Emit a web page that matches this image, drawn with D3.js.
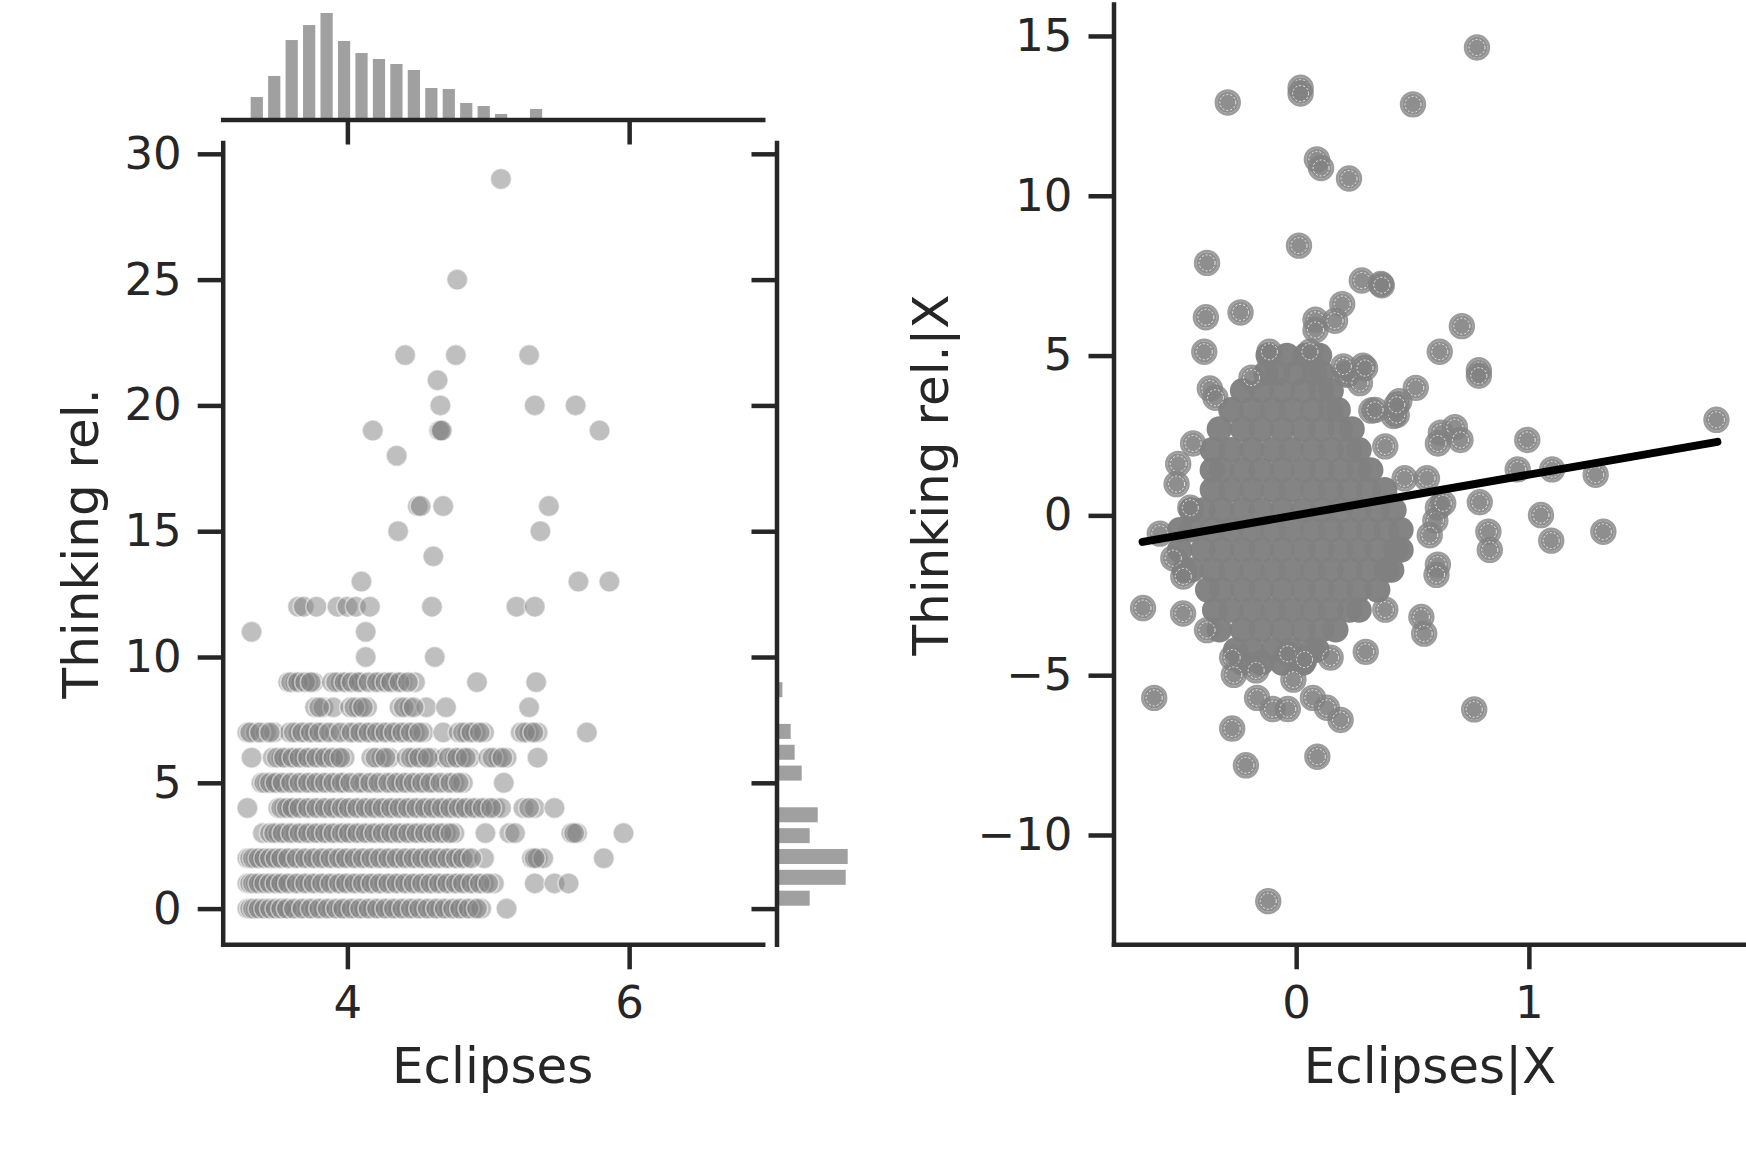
<!DOCTYPE html>
<html>
<head>
<meta charset="utf-8">
<title>Eclipses and Thinking rel.</title>
<script src="https://d3js.org/d3.v7.min.js"></script>
<style>
  body { margin: 0; background: #fff; }
  text { font-family: "DejaVu Sans", sans-serif; fill: #262626; }
</style>
</head>
<body>
<script>
// ---- values ----

// left: joint plot, one row of Eclipses values per Thinking rel. level
var thinkingLevels = [0, 1, 2, 3, 4, 5, 6, 7, 8, 9, 10, 11, 12, 13, 14, 15, 16, 18, 19, 20, 21, 22, 25, 29];
var eclipsesAtLevel = [
  [3.29,3.31,3.35,3.39,3.43,3.47,3.51,3.55,3.59,3.65,3.71,3.77,3.83,3.89,3.95,4.00,4.06,4.12,4.18,4.24,4.30,4.36,4.42,4.48,4.54,4.60,4.66,4.72,4.78,4.83,4.89,4.95,5.13,
   3.33,3.37,3.41,3.45,3.49,3.53,3.57,3.62,3.68,3.74,3.80,3.86,3.92,3.97,4.03,4.09,4.15,4.21,4.27,4.33,4.39,4.45,4.51,4.57,4.63,4.69,4.75,4.80,4.86,4.92],
  [3.29,3.31,3.35,3.39,3.43,3.47,3.51,3.55,3.61,3.67,3.73,3.79,3.85,3.91,3.96,4.02,4.08,4.14,4.20,4.26,4.32,4.38,4.44,4.50,4.56,4.62,4.68,4.74,4.79,4.85,4.91,4.97,5.04,5.33,5.47,5.57,
   3.33,3.37,3.41,3.45,3.49,3.53,3.58,3.64,3.70,3.76,3.82,3.88,3.94,3.99,4.05,4.11,4.17,4.23,4.29,4.35,4.41,4.47,4.53,4.59,4.65,4.71,4.77,4.82,4.88,4.94,5.00],
  [3.29,3.31,3.35,3.39,3.43,3.47,3.51,3.56,3.61,3.67,3.73,3.79,3.85,3.91,3.96,4.02,4.08,4.14,4.20,4.26,4.32,4.38,4.44,4.50,4.56,4.62,4.68,4.74,4.79,4.85,4.97,5.31,5.35,5.39,5.82,
   3.33,3.37,3.41,3.45,3.49,3.53,3.58,3.64,3.70,3.76,3.82,3.88,3.94,3.99,4.05,4.11,4.17,4.23,4.29,4.35,4.41,4.47,4.53,4.59,4.65,4.71,4.77,4.82,4.88,5.33],
  [3.40,3.45,3.51,3.57,3.63,3.69,3.75,3.81,3.87,3.93,3.98,4.04,4.10,4.16,4.22,4.28,4.34,4.40,4.46,4.52,4.58,4.64,4.70,4.76,4.98,5.15,5.19,5.59,5.63,5.96,
   3.48,3.54,3.60,3.66,3.72,3.78,3.84,3.90,3.96,4.01,4.07,4.13,4.19,4.25,4.31,4.37,4.43,4.49,4.55,4.61,4.67,4.73,5.61],
  [3.29,3.51,3.55,3.59,3.63,3.69,3.75,3.81,3.87,3.93,3.98,4.04,4.10,4.16,4.22,4.28,4.34,4.40,4.46,4.52,4.58,4.64,4.70,4.76,4.81,4.87,4.93,4.99,5.05,5.09,5.25,5.33,5.47,
   3.53,3.57,3.61,3.66,3.72,3.78,3.84,3.90,3.96,4.01,4.07,4.13,4.19,4.25,4.31,4.37,4.43,4.49,4.55,4.61,4.67,4.73,4.79,4.84,4.90,4.96,5.02,5.29],
  [3.39,3.43,3.47,3.51,3.57,3.63,3.69,3.75,3.81,3.87,3.93,3.98,4.06,4.12,4.19,4.26,4.32,4.38,4.44,4.50,4.56,4.62,4.70,4.76,4.82,5.11,
   3.41,3.45,3.49,3.54,3.60,3.66,3.72,3.78,3.84,3.90,3.96,4.02,4.09,4.16,4.22,4.29,4.35,4.41,4.47,4.53,4.59,4.66,4.73,4.79],
  [3.32,3.47,3.53,3.58,3.63,3.69,3.75,3.81,3.87,3.93,3.98,4.17,4.24,4.30,4.42,4.48,4.54,4.60,4.69,4.76,4.81,4.87,5.00,5.07,5.13,5.35,
   3.50,3.55,3.61,3.66,3.72,3.78,3.84,3.90,3.95,4.20,4.27,4.45,4.51,4.57,4.72,4.78,4.84,5.03,5.10],
  [3.29,3.35,3.42,3.48,3.59,3.65,3.71,3.77,3.83,3.91,4.00,4.06,4.12,4.18,4.24,4.30,4.36,4.42,4.48,4.54,4.68,4.79,4.85,4.91,4.97,5.23,5.29,5.35,5.70,
   3.31,3.38,3.45,3.62,3.68,3.74,3.80,3.87,3.95,4.03,4.09,4.15,4.21,4.27,4.33,4.39,4.45,4.51,4.82,4.88,4.94,5.26,5.32],
  [3.77,3.83,3.90,4.02,4.08,4.14,4.37,4.44,4.56,4.70,5.29, 3.80,4.05,4.11,4.40,4.47],
  [3.58,3.63,3.67,3.72,3.76,3.89,3.95,4.00,4.06,4.10,4.19,4.24,4.29,4.34,4.39,4.48,4.92,5.34,
   3.60,3.65,3.70,3.74,3.92,3.98,4.03,4.08,4.15,4.21,4.27,4.31,4.37,4.43],
  [4.13,4.62],
  [3.32,4.13],
  [3.65,3.69,3.78,3.93,4.00,4.06,4.16,4.60,5.20,5.33],
  [4.10,5.64,5.86],
  [4.61],
  [4.36,5.37],
  [4.50,4.52,4.68,5.43],
  [4.35],
  [4.18,4.65,4.66,4.67,5.79],
  [4.66,5.33,5.62],
  [4.64],
  [4.41,4.77,5.29],
  [4.78],
  [5.09]
];

// marginal histograms (relative counts per bin)
var eclipsesBinStart = 3.295, eclipsesBinWidth = 0.1239;
var eclipsesCounts = [21.1, 40.9, 74.6, 88.7, 100, 73.7, 62.4, 56.8, 52.1, 46.5, 29.6, 28.6, 15.5, 12.7, 5.2, 1, 9.9, 0, 1, 1, 0, 1];
var thinkingBinStart = 0, thinkingBinWidth = 29 / 35;
var thinkingCounts = [46.6, 97.2, 100, 46.6, 57.9, 0, 35.4, 25.5, 19.9, 3, 8.3, 0, 2, 2, 3.5, 1.5, 1, 0, 2, 1.5, 0, 2.5, 1.5, 1, 0, 0, 2.5, 0, 0, 0, 1, 0, 0, 0, 1];

// right: partial regression plot, dense core read row by row
var coreRowY = [5.0, 4.45, 3.9, 3.3, 2.7, 2.05, 1.42, 0.8, 0.17, -0.45, -1.08, -1.71, -2.33, -2.96, -3.58, -4.21, -4.62];
var coreRowX = [
  [-0.12,-0.04,0.04,0.10],
  [-0.13,-0.08,0.00,0.08,0.11],
  [-0.23,-0.15,-0.06,0.03,0.11,0.15],
  [-0.28,-0.19,-0.10,-0.02,0.07,0.15,0.18],
  [-0.33,-0.23,-0.15,-0.06,0.03,0.11,0.19,0.24],
  [-0.36,-0.28,-0.19,-0.10,-0.02,0.07,0.15,0.23,0.27],
  [-0.36,-0.32,-0.23,-0.15,-0.06,0.03,0.11,0.19,0.27,0.32],
  [-0.36,-0.28,-0.19,-0.10,-0.02,0.07,0.15,0.23,0.31,0.38],
  [-0.45,-0.40,-0.32,-0.23,-0.15,-0.06,0.03,0.11,0.19,0.27,0.35,0.42],
  [-0.50,-0.45,-0.36,-0.28,-0.19,-0.10,-0.02,0.07,0.15,0.23,0.31,0.39,0.45],
  [-0.50,-0.40,-0.32,-0.23,-0.15,-0.06,0.03,0.11,0.19,0.27,0.35,0.43,0.45],
  [-0.48,-0.45,-0.36,-0.28,-0.19,-0.10,-0.02,0.07,0.15,0.23,0.31,0.39,0.41],
  [-0.38,-0.32,-0.23,-0.15,-0.06,0.03,0.11,0.19,0.27,0.35],
  [-0.35,-0.28,-0.19,-0.10,-0.02,0.07,0.15,0.23,0.27],
  [-0.33,-0.23,-0.15,-0.06,0.03,0.11,0.17],
  [-0.26,-0.19,-0.10,-0.02,0.07,0.09],
  [-0.23,-0.15,-0.06,0.03]
];
// scattered points around the core
var residX = [0.777,0.019,0.019,-0.294,0.502,0.089,0.107,0.227,0.012,-0.383,0.282,0.364,0.368,-0.239,-0.388,0.198,0.083,0.167,0.083,0.712,
  -0.395,0.617,0.785,0.785,0.287,0.215,0.22,0.514,-0.371,-0.347,0.443,0.419,0.323,1.806,0.622,0.609,0.682,0.706,0.993,0.383,
  0.952,1.10,1.287,0.466,0.562,0.789,1.052,0.826,0.832,1.096,1.32,-0.443,-0.507,-0.514,-0.586,0.609,0.598,0.574,0.609,-0.455,
  -0.192,-0.115,0.059,-0.658,-0.486,-0.383,-0.610,-0.275,-0.268,-0.172,-0.168,-0.101,-0.036,-0.012,-0.036,0.036,0.072,0.132,0.191,-0.275,
  -0.216,0.091,-0.12,0.765,0.148,0.299,0.383,0.538,0.550,0.603,-0.528,-0.485,0.632,0.432,0.274,0.203,0.339,0.432,0.296];
var residY = [14.64,13.38,13.2,12.92,12.86,11.14,10.87,10.54,8.44,7.90,7.35,7.24,7.20,6.35,6.20,6.61,6.12,6.09,5.80,5.92,
  5.12,5.12,4.54,4.37,4.68,4.43,4.40,3.99,3.97,3.68,3.57,3.11,3.28,2.99,2.59,2.25,2.76,2.36,2.36,2.16,
  1.44,1.44,1.27,1.16,1.16,0.41,0.01,-0.51,-1.08,-0.79,-0.51,2.25,1.61,0.98,-0.57,0.24,-0.16,-0.62,-1.54,0.24,
  4.31,5.12,5.12,-2.90,-3.07,-3.59,-5.71,-4.45,-4.99,-4.85,-5.71,-6.06,-6.06,-5.14,-4.33,-4.51,-5.71,-6.02,-6.40,-6.67,
  -7.82,-7.55,-12.07,-6.07,-4.45,-4.27,-2.95,-3.18,-3.70,-1.86,-1.34,-1.91,0.38,3.14,4.14,4.66,3.30,3.46,4.61];
// fitted line ends
var fitX = [-0.66, 1.81];
var fitY = [-0.83, 2.30];

var leftYTicks = [0, 5, 10, 15, 20, 25, 30];
var leftXTicks = [4, 6];
var rightYTicks = [-10, -5, 0, 5, 10, 15];
var rightXTicks = [0, 1];

// ---- drawing ----
var W = 1746, H = 1151;
var ink = "#262626";
var svg = d3.select("body").append("svg").attr("width", W).attr("height", H);

function styleAxis(g, labels) {
  g.select(".domain").attr("stroke", ink).attr("stroke-width", 4.5).attr("stroke-linecap", "square");
  g.selectAll(".tick line").attr("stroke", ink).attr("stroke-width", 4.5);
  g.selectAll(".tick text").attr("font-size", labels ? 45 : 0).attr("fill", ink)
    .attr("font-family", "DejaVu Sans, sans-serif");
}

// left joint plot
var x = d3.scaleLinear().domain([3.115, 6.948]).range([222.7, 762.7]);
var y = d3.scaleLinear().domain([-1.419, 30.45]).range([944.3, 142.5]);

var jointPts = [];
thinkingLevels.forEach(function(t, i) {
  eclipsesAtLevel[i].forEach(function(e) { jointPts.push({e: e, t: t}); });
});

svg.append("g").selectAll("circle").data(jointPts).enter().append("circle")
  .attr("cx", function(d) { return x(d.e); })
  .attr("cy", function(d) { return y(d.t); })
  .attr("r", 10.5)
  .attr("fill", "#808080").attr("fill-opacity", 0.5)
  .attr("stroke", "#fff").attr("stroke-opacity", 0.5).attr("stroke-width", 1.6);

var gx = svg.append("g").attr("transform", "translate(0,944.3)")
  .call(d3.axisBottom(x).tickValues(leftXTicks).tickSize(25).tickSizeOuter(0).tickPadding(17).tickFormat(d3.format("d")));
styleAxis(gx, true);
var gy = svg.append("g").attr("transform", "translate(222.7,0)")
  .call(d3.axisLeft(y).tickValues(leftYTicks).tickSize(25).tickSizeOuter(0).tickPadding(16).tickFormat(d3.format("d")));
styleAxis(gy, true);

// top marginal histogram
var hTop = d3.scaleLinear().domain([0, 100]).range([119.5, 13]);
svg.append("g").selectAll("rect").data(eclipsesCounts).enter().append("rect")
  .attr("x", function(d, i) { return x(eclipsesBinStart + (i + 0.15) * eclipsesBinWidth); })
  .attr("width", x(eclipsesBinStart + 0.7 * eclipsesBinWidth) - x(eclipsesBinStart))
  .attr("y", function(d) { return hTop(d); })
  .attr("height", function(d) { return hTop(0) - hTop(d); })
  .attr("fill", "#a0a0a0");
var gTop = svg.append("g").attr("transform", "translate(0,119.5)")
  .call(d3.axisBottom(x).tickValues(leftXTicks).tickSize(25).tickSizeOuter(0).tickFormat(""));
styleAxis(gTop, false);

// right marginal histogram
var wSide = d3.scaleLinear().domain([0, 100]).range([776.5, 847.7]);
svg.append("g").selectAll("rect").data(thinkingCounts).enter().append("rect")
  .attr("x", wSide(0))
  .attr("y", function(d, i) { return y(thinkingBinStart + (i + 0.86) * thinkingBinWidth); })
  .attr("height", y(0) - y(0.72 * thinkingBinWidth))
  .attr("width", function(d) { return wSide(d) - wSide(0); })
  .attr("fill", "#a0a0a0");
var gSide = svg.append("g").attr("transform", "translate(776.5,0)")
  .call(d3.axisLeft(y).tickValues(leftYTicks).tickSize(25).tickSizeOuter(0).tickFormat(""));
styleAxis(gSide, false);

svg.append("text").attr("x", 492.7).attr("y", 1083).attr("text-anchor", "middle")
  .attr("font-size", 50).text("Eclipses");
svg.append("text").attr("transform", "translate(98,543.4) rotate(-90)").attr("text-anchor", "middle")
  .attr("font-size", 50).text("Thinking rel.");

// right partial regression plot
var x2 = d3.scaleLinear().domain([-0.785, 1.933]).range([1113.5, 1746]);
var y2 = d3.scaleLinear().domain([-13.42, 16.0]).range([944.3, 4]);

var corePts = [];
coreRowY.forEach(function(v, i) {
  coreRowX[i].forEach(function(u) { corePts.push({u: u, v: v}); });
});
var residPts = residX.map(function(u, i) { return {u: u, v: residY[i]}; });

// the core is a solid mass of overlapping markers
svg.append("g").selectAll("circle").data(corePts).enter().append("circle")
  .attr("cx", function(d) { return x2(d.u); })
  .attr("cy", function(d) { return y2(d.v); })
  .attr("r", 12.8)
  .attr("fill", "#808080").attr("fill-opacity", 0.97);

var dots = svg.append("g").selectAll("g").data(residPts).enter().append("g")
  .attr("transform", function(d) { return "translate(" + x2(d.u) + "," + y2(d.v) + ")"; });
dots.append("circle").attr("r", 10.6).attr("fill", "#808080").attr("fill-opacity", 0.89);
dots.append("circle").attr("r", 11.9).attr("fill", "none")
  .attr("stroke", "#808080").attr("stroke-opacity", 0.78).attr("stroke-width", 2.6);
dots.append("circle").attr("r", 8).attr("fill", "none")
  .attr("stroke", "#fff").attr("stroke-width", 0.8).attr("stroke-dasharray", "2,2");

svg.append("line")
  .attr("x1", x2(fitX[0])).attr("y1", y2(fitY[0]))
  .attr("x2", x2(fitX[1])).attr("y2", y2(fitY[1]))
  .attr("stroke", "#000").attr("stroke-width", 8).attr("stroke-linecap", "round");

var gx2 = svg.append("g").attr("transform", "translate(0,944.3)")
  .call(d3.axisBottom(x2).tickValues(rightXTicks).tickSize(25).tickSizeOuter(0).tickPadding(17).tickFormat(d3.format("d")));
styleAxis(gx2, true);
var gy2 = svg.append("g").attr("transform", "translate(1113.5,0)")
  .call(d3.axisLeft(y2).tickValues(rightYTicks).tickSize(25).tickSizeOuter(0).tickPadding(16).tickFormat(d3.format("d")));
styleAxis(gy2, true);

svg.append("text").attr("x", 1430).attr("y", 1083).attr("text-anchor", "middle")
  .attr("font-size", 50).text("Eclipses|X");
svg.append("text").attr("transform", "translate(948,475) rotate(-90)").attr("text-anchor", "middle")
  .attr("font-size", 50).text("Thinking rel.|X");
</script>
</body>
</html>
